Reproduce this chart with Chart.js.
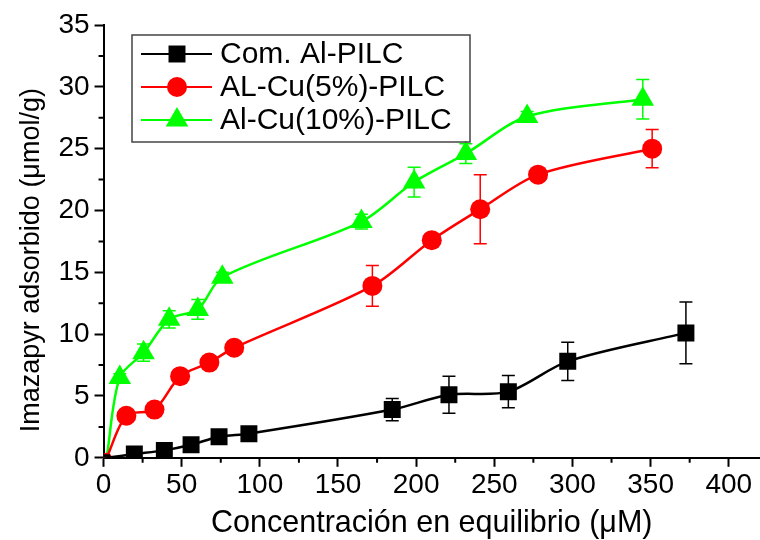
<!DOCTYPE html>
<html>
<head>
<meta charset="utf-8">
<script src="https://cdn.jsdelivr.net/npm/chart.js@4.4.1/dist/chart.umd.min.js"></script>
<style>
  html, body { margin: 0; padding: 0; background: #fff; }
  #wrap { width: 760px; height: 540px; }
</style>
</head>
<body>
<div id="wrap"><canvas id="chart1"></canvas></div>
<script>
// valeurs
var seriesNames = ["Com. Al-PILC", "AL-Cu(5%)-PILC", "Al-Cu(10%)-PILC"];

var concBlack = [2, 19.7, 38.9, 56, 73.9, 93, 184.7, 221, 259, 297, 372.6];
var adsBlack  = [0, 0.3, 0.6, 1.05, 1.7, 1.95, 3.9, 5.1, 5.35, 7.8, 10.1];
var errBlack  = [0, 0.2, 0.2, 0.2, 0.2, 0.2, 0.9, 1.5, 1.3, 1.55, 2.5];

var concRed = [2, 14.6, 32.6, 49, 67.7, 83.6, 172, 210, 241, 278, 351];
var adsRed  = [0, 3.4, 3.9, 6.6, 7.7, 8.9, 13.9, 17.6, 20.1, 22.9, 25.0];
var errRed  = [0, 0.3, 0.3, 0.3, 0.3, 0.3, 1.65, 0.4, 2.8, 0.3, 1.55];

var concGreen = [2, 10.4, 25.6, 42, 60.3, 76, 165, 198.7, 231.8, 271, 345];
var adsGreen  = [0, 6.5, 8.5, 11.2, 12.0, 14.6, 19.1, 22.3, 24.6, 27.6, 29.0];
var errGreen  = [0, 0.3, 0.7, 0.7, 0.8, 0.4, 0.6, 1.2, 0.8, 0.4, 1.6];

var xTicks = [0, 50, 100, 150, 200, 250, 300, 350, 400];
var yTicks = [0, 5, 10, 15, 20, 25, 30, 35];

var FONT = "'Liberation Sans', Arial, sans-serif";

function toPoints(xs, ys) {
    var pts = [];
    for (var i = 0; i < xs.length; i++) {
        pts.push({ x: xs[i], y: ys[i] });
    }
    return pts;
}

function makeSet(label, xs, ys, errs, color, style, r) {
    var radii = xs.map(function(v, i) { return i === 0 ? 5 : r; });
    return {
        label: label,
        data: toPoints(xs, ys),
        errors: errs,
        borderColor: color,
        backgroundColor: color,
        pointBackgroundColor: color,
        pointBorderColor: color,
        pointBorderWidth: 0,
        pointStyle: style,
        pointRadius: radii,
        pointHoverRadius: radii,
        legendRadius: r,
        borderWidth: 2.5,
        tension: 0.3,
        clip: { left: 0, bottom: 0, top: 20, right: 20 }
    };
}

// barres d'erreur, dessinées avant les marqueurs
var errorBars = {
    id: 'errorBars',
    beforeDatasetsDraw: function(chart) {
        var ctx = chart.ctx;
        var yScale = chart.scales.y;
        chart.data.datasets.forEach(function(ds, i) {
            var meta = chart.getDatasetMeta(i);
            ctx.save();
            ctx.strokeStyle = ds.borderColor;
            ctx.lineWidth = 1.5;
            meta.data.forEach(function(pt, j) {
                var e = ds.errors[j];
                if (!e) return;
                var v = ds.data[j].y;
                var top = yScale.getPixelForValue(v + e);
                var bot = yScale.getPixelForValue(v - e);
                ctx.beginPath();
                ctx.moveTo(pt.x, top);
                ctx.lineTo(pt.x, bot);
                ctx.moveTo(pt.x - 6.5, top);
                ctx.lineTo(pt.x + 6.5, top);
                ctx.moveTo(pt.x - 6.5, bot);
                ctx.lineTo(pt.x + 6.5, bot);
                ctx.stroke();
            });
            ctx.restore();
        });
    }
};

// petites graduations
var minorTicks = {
    id: 'minorTicks',
    afterDraw: function(chart) {
        var ctx = chart.ctx;
        var xs = chart.scales.x, ys = chart.scales.y;
        ctx.save();
        ctx.strokeStyle = '#000';
        ctx.lineWidth = 2;
        ctx.beginPath();
        for (var v = 25; v < xs.max; v += 50) {
            var px = xs.getPixelForValue(v);
            ctx.moveTo(px, chart.chartArea.bottom);
            ctx.lineTo(px, chart.chartArea.bottom + 5);
        }
        for (var w = 2.5; w < ys.max; w += 5) {
            var py = ys.getPixelForValue(w);
            ctx.moveTo(chart.chartArea.left, py);
            ctx.lineTo(chart.chartArea.left - 5, py);
        }
        ctx.stroke();
        ctx.restore();
    }
};

// légende encadrée dans la zone du graphique
var boxLegend = {
    id: 'boxLegend',
    afterDraw: function(chart) {
        var ctx = chart.ctx;
        var x0 = 132, y0 = 35, w = 338, h = 107;
        ctx.save();
        ctx.strokeStyle = '#444';
        ctx.lineWidth = 1.5;
        ctx.strokeRect(x0, y0, w, h);
        var rows = [54, 87, 120];
        chart.data.datasets.forEach(function(ds, i) {
            var y = rows[i];
            ctx.strokeStyle = ds.borderColor;
            ctx.lineWidth = 2;
            ctx.beginPath();
            ctx.moveTo(141, y);
            ctx.lineTo(212, y);
            ctx.stroke();
            ctx.fillStyle = ds.backgroundColor;
            Chart.helpers.drawPoint(ctx, {
                pointStyle: ds.pointStyle,
                radius: ds.legendRadius,
                rotation: 0,
                borderWidth: 0
            }, 177, y);
            ctx.fillStyle = '#000';
            ctx.font = '30px ' + FONT;
            ctx.textBaseline = 'middle';
            ctx.fillText(ds.label, 220, y + 1);
        });
        ctx.restore();
    }
};

var ctx = document.getElementById('chart1').getContext('2d');
var myChart = new Chart(ctx, {
    type: 'line',
    data: {
        datasets: [
            makeSet(seriesNames[0], concBlack, adsBlack, errBlack, '#000000', 'rect', 12),
            makeSet(seriesNames[1], concRed, adsRed, errRed, '#ff0000', 'circle', 10),
            makeSet(seriesNames[2], concGreen, adsGreen, errGreen, '#00ff00', 'triangle', 13)
        ]
    },
    options: {
        responsive: true,
        maintainAspectRatio: false,
        animation: false,
        layout: { autoPadding: false, padding: { left: 15, top: 25, right: 0, bottom: -2 } },
        plugins: {
            legend: { display: false },
            tooltip: { enabled: false }
        },
        scales: {
            x: {
                type: 'linear',
                min: 0,
                max: 420,
                afterBuildTicks: function(scale) {
                    scale.ticks = xTicks.map(function(v) { return { value: v }; });
                },
                ticks: {
                    color: '#000',
                    padding: 2,
                    maxRotation: 0,
                    font: { family: FONT, size: 28 }
                },
                grid: {
                    display: true,
                    drawOnChartArea: false,
                    drawTicks: true,
                    tickLength: 9,
                    tickWidth: 2,
                    tickColor: '#000'
                },
                border: { color: '#000', width: 2 },
                title: {
                    display: true,
                    text: 'Concentración en equilibrio (μM)',
                    color: '#000',
                    font: { family: FONT, size: 30.5 },
                    padding: { top: 1, bottom: 0 }
                }
            },
            y: {
                type: 'linear',
                min: 0,
                max: 35,
                afterBuildTicks: function(scale) {
                    scale.ticks = yTicks.map(function(v) { return { value: v }; });
                },
                ticks: {
                    color: '#000',
                    padding: 5,
                    font: { family: FONT, size: 28 }
                },
                grid: {
                    display: true,
                    drawOnChartArea: false,
                    drawTicks: true,
                    tickLength: 9,
                    tickWidth: 2,
                    tickColor: '#000'
                },
                border: { color: '#000', width: 2 },
                title: {
                    display: true,
                    text: 'Imazapyr adsorbido (μmol/g)     ',
                    color: '#000',
                    font: { family: FONT, size: 27 },
                    padding: { top: 0, bottom: 6 }
                }
            }
        }
    },
    plugins: [errorBars, minorTicks, boxLegend]
});
</script>
</body>
</html>
